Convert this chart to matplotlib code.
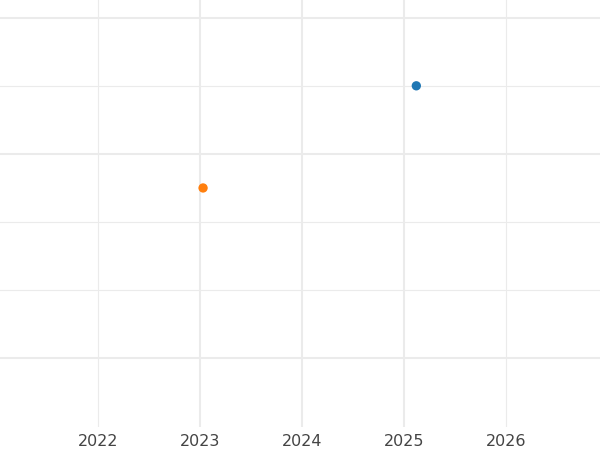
import matplotlib
matplotlib.use("Agg")
import matplotlib.pyplot as plt

# data
years = [2025.12, 2023.03]
values = [4.0, 2.5]
colors = ["#1f77b4", "#ff7f0e"]

# gridline positions
x_major = [2023, 2024, 2025]
x_minor = [2022, 2026]
y_major = [0, 3, 5]
y_minor = [1, 2, 4]

fig = plt.figure(figsize=(6, 4.5), dpi=100)
ax = fig.add_axes([0, 1 - 427 / 450, 1, 427 / 450])

ax.scatter(years, values, c=colors, s=45, zorder=3, linewidths=0)

ax.set_xlim(2021.04, 2026.92)
ax.set_ylim(-1.01, 5.26)

ax.set_xticks(x_major, labels=[str(y) for y in x_major])
ax.set_xticks(x_minor, labels=[str(y) for y in x_minor], minor=True)
ax.set_yticks(y_major)
ax.set_yticks(y_minor, minor=True)

ax.tick_params(axis="both", which="both", length=0, labelsize=11.5,
               labelcolor="#444444")
ax.tick_params(axis="x", which="both", pad=5)
ax.tick_params(axis="y", which="both", labelleft=False)

ax.grid(which="major", color="#ebebeb", linewidth=1.5)
ax.grid(which="minor", color="#ebebeb", linewidth=0.8)
ax.set_axisbelow(True)

for s in ax.spines.values():
    s.set_visible(False)

fig.savefig("out.png", dpi=100)
